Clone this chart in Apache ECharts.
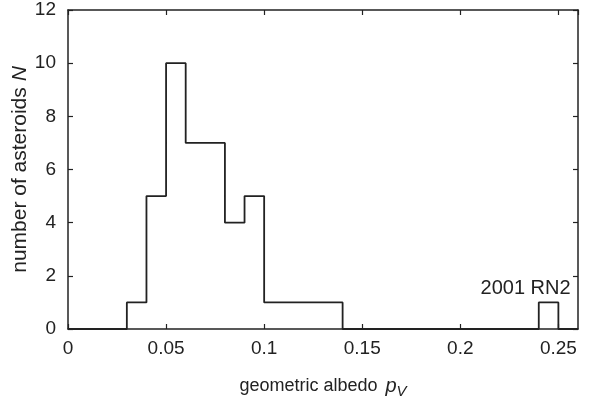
<!DOCTYPE html>
<html>
<head>
<meta charset="utf-8">
<script src="https://cdn.jsdelivr.net/npm/echarts@6/dist/echarts.min.js"></script>
<style>
html,body{margin:0;padding:0;background:#fff;}
#chart{width:601px;height:397px;}
</style>
</head>
<body>
<div id="chart"></div>
<script>
// Histogram bin edges (geometric albedo) and counts per bin
const binEdges = [0, 0.03, 0.04, 0.05, 0.06, 0.08, 0.09, 0.10, 0.14, 0.24, 0.25, 0.26];
const counts   = [0, 1, 5, 10, 7, 4, 5, 1, 0, 1, 0];
const xTicks = [0, 0.05, 0.1, 0.15, 0.2, 0.25];
const yTicks = [0, 2, 4, 6, 8, 10, 12];
const annotationText = '2001 RN2';
const annotationAt = [0.245, 1];

const stepData = counts.map((c, i) => [binEdges[i], c]);
stepData.push([binEdges[binEdges.length - 1], 0]);

const FONT = 'Liberation Sans, Arial, Helvetica, sans-serif';
const INK = '#222';

const chart = echarts.init(document.getElementById('chart'), null, {renderer: 'canvas'});

const tickStyle = {show: true, inside: true, length: 5, lineStyle: {color: INK, width: 1.2}};
const lineStyle = {show: true, onZero: false, lineStyle: {color: INK, width: 1.5}};

chart.setOption({
  animation: false,
  backgroundColor: '#fff',
  grid: {left: 68, right: 23, top: 10, bottom: 68, show: false, containLabel: false, outerBoundsMode: 'none'},
  xAxis: [{
    type: 'value', min: 0, max: 0.26, interval: 0.05, position: 'bottom',
    axisLine: lineStyle, axisTick: tickStyle, splitLine: {show: false},
    axisLabel: {
      color: INK, fontFamily: FONT, fontSize: 19, margin: 10, showMaxLabel: false,
      formatter: v => xTicks.some(t => Math.abs(t - v) < 1e-9) ? String(+v.toFixed(2)) : ''
    },
    name: '{t|geometric albedo }{i|p}{s|V}',
    nameLocation: 'middle', nameGap: 44,
    nameTextStyle: {
      color: INK, fontFamily: FONT, fontSize: 18,
      rich: {
        t: {fontFamily: FONT, fontSize: 18, color: INK, lineHeight: 26, verticalAlign: 'middle'},
        i: {fontFamily: FONT, fontSize: 20, color: INK, fontStyle: 'italic', lineHeight: 26, verticalAlign: 'middle', padding: [0, 0, 0, 3]},
        s: {fontFamily: FONT, fontSize: 15, color: INK, fontStyle: 'italic', lineHeight: 26, verticalAlign: 'bottom'}
      }
    }
  }, {
    type: 'value', min: 0, max: 0.26, interval: 0.05, position: 'top',
    axisLine: lineStyle, axisTick: tickStyle, axisLabel: {show: false}, splitLine: {show: false}
  }],
  yAxis: [{
    type: 'value', min: 0, max: 12, interval: 2, position: 'left',
    axisLine: lineStyle, axisTick: tickStyle, splitLine: {show: false},
    axisLabel: {
      color: INK, fontFamily: FONT, fontSize: 19, margin: 12,
      formatter: v => yTicks.includes(v) ? String(v) : ''
    },
    name: '{t|number of asteroids }{i|N}',
    nameLocation: 'middle', nameGap: 37, nameRotate: 90, nameMoveOverlap: false,
    nameTextStyle: {
      color: INK, fontFamily: FONT, fontSize: 21,
      rich: {
        t: {fontFamily: FONT, fontSize: 21, color: INK},
        i: {fontFamily: FONT, fontSize: 21, color: INK, fontStyle: 'italic'}
      }
    }
  }, {
    type: 'value', min: 0, max: 12, interval: 2, position: 'right',
    axisLine: lineStyle, axisTick: tickStyle, axisLabel: {show: false}, splitLine: {show: false}
  }],
  series: [{
    type: 'line',
    step: 'end',
    data: stepData,
    symbol: 'none',
    lineStyle: {color: INK, width: 1.8},
    markPoint: {
      symbol: 'circle', symbolSize: 0,
      data: [{coord: annotationAt}],
      label: {
        show: true, formatter: annotationText, position: 'top', distance: 4, offset: [-23, 0],
        color: INK, fontFamily: FONT, fontSize: 20
      }
    }
  }]
});
</script>
</body>
</html>
